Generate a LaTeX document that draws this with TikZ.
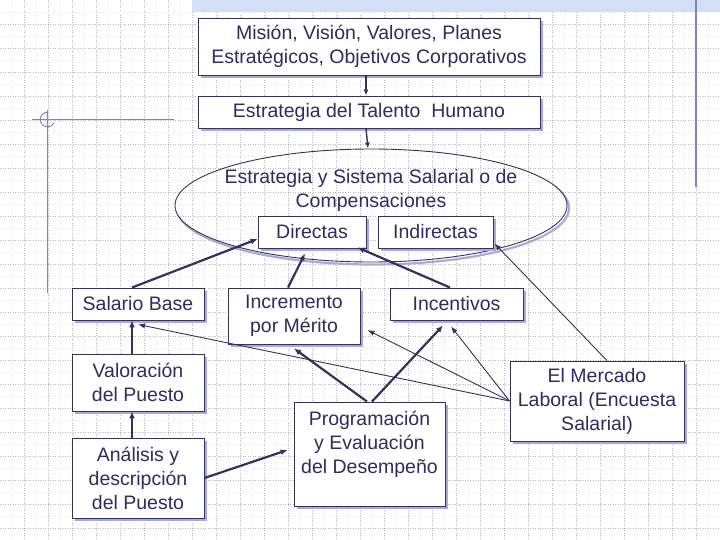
\documentclass[tikz,border=0pt]{standalone}
\usepackage{fontspec}
\setmainfont{Liberation Sans}
\usetikzlibrary{arrows.meta,shapes.geometric,shadows,calc}
\definecolor{navy}{RGB}{50,50,92}
\definecolor{txtc}{RGB}{45,45,95}
\definecolor{shadowc}{RGB}{170,170,215}
\definecolor{gridc}{RGB}{185,185,195}
\definecolor{decoc}{RGB}{120,135,185}
\definecolor{bandc}{RGB}{212,222,245}
\begin{document}
\begin{tikzpicture}[x=1pt,y=-1pt,
  gridmajor/.style={draw=gridc, line width=0.7pt, dash pattern=on 1pt off 1.5pt},
  gridminor/.style={draw=gridc!30, line width=0.5pt, dash pattern=on 1pt off 1.5pt},
  box/.style={draw=navy, line width=0.9pt, fill=white, inner sep=0pt, align=center,
    text=txtc, font=\fontsize{19.5}{24}\selectfont,
    general shadow={fill=shadowc, shadow xshift=3pt, shadow yshift=-3pt}},
  plaintext/.style={inner sep=0pt, align=center, text=txtc, font=\fontsize{19.5}{24}\selectfont},
  thickarrow/.style={draw=navy, line width=2.2pt, -{Latex[length=7pt,width=6pt]}},
  midarrow/.style={draw=navy, line width=1.4pt, -{Latex[length=6pt,width=5pt]}},
  thinarrow/.style={draw=navy, line width=0.9pt, -{Latex[length=7pt,width=5pt]}},
  deco/.style={draw=decoc, line width=1.2pt}
]
\useasboundingbox (0,0) rectangle (720,540);
% background grid
\foreach \i in {0,...,29} {
  \draw[gridminor] ({24*\i+12.5},0) -- ({24*\i+12.5},540);
  \draw[gridmajor] ({24*\i+24.5},0) -- ({24*\i+24.5},540);
}
\foreach \j in {0,...,22} {
  \draw[gridminor] (0,{24*\j+12.5}) -- (720,{24*\j+12.5});
  \draw[gridmajor] (0,{24*\j+24.5}) -- (720,{24*\j+24.5});
}
% decorative elements
\fill[bandc] (192,0) rectangle (720,12.5);
\draw[deco] (696,0) -- (696,187);
\draw[deco] (47.5,110) -- (47.5,293);
\draw[deco, line width=1pt] (32,119.5) -- (174,119.5);
\draw[deco, line width=0.9pt] (47.5,112.2) arc[start angle=90, end angle=330, radius=7.3pt];

% nodes
\node[box, minimum width=342pt, minimum height=57pt] (mis) at (369,46.5)
  {Misión, Visión, Valores, Planes\\Estratégicos, Objetivos Corporativos};
\node[box, minimum width=342pt, minimum height=32pt] (tal) at (369,112)
  {Estrategia del Talento\ \ Humano};
\begin{scope}[even odd rule]
  \clip (0,0) rectangle (720,540) (371,205.5) ellipse[x radius=196pt, y radius=56.5pt];
  \draw[shadowc, line width=2.2pt] (373,208) ellipse[x radius=196pt, y radius=56.5pt];
\end{scope}
\node[draw=navy, line width=0.9pt, ellipse, minimum width=392pt, minimum height=113pt, inner sep=0pt] (ell) at (371,205.5) {};
\node[plaintext] (etxt) at (371,190) {Estrategia y Sistema Salarial o de\\Compensaciones};
\node[box, minimum width=108pt, minimum height=32pt] (dir) at (312,232) {Directas};
\node[box, minimum width=115pt, minimum height=32pt] (ind) at (435.5,232) {Indirectas};
\node[box, minimum width=132pt, minimum height=32pt] (sal) at (138,304) {Salario Base};
\node[box, minimum width=132pt, minimum height=56pt] (inc) at (294,316) {Incremento\\por Mérito};
\node[box, minimum width=133pt, minimum height=32pt] (icv) at (456.5,304) {Incentivos};
\node[box, minimum width=132pt, minimum height=57pt] (val) at (138,382.5) {Valoración\\del Puesto};
\node[box, minimum width=132pt, minimum height=80pt] (ana) at (138,478) {Análisis y\\descripción\\del Puesto};
\node[box, minimum width=151pt, minimum height=104pt] (pro) at (369.5,454) {Programación\\y Evaluación\\del Desempeño\\\mbox{}};
\node[box, minimum width=174pt, minimum height=80pt] (mer) at (597,401) {El Mercado\\Laboral (Encuesta\\Salarial)};

% connectors
\draw[midarrow] ([xshift=-3pt]mis.south) -- ([xshift=-3pt]tal.north);
\draw[midarrow] ([xshift=-3pt]tal.south) -- ([xshift=-3pt]ell.north);
\draw[thickarrow] ([xshift=-6pt]sal.north) -- ([yshift=-7pt]dir.west);
\draw[thickarrow] ([xshift=-6pt]inc.north) -- ([xshift=-7pt,yshift=-5pt]dir.south);
\draw[thickarrow] ([xshift=-6.5pt]icv.north) -- ([xshift=-9pt,yshift=1pt]dir.south east);
\draw[thinarrow] ([xshift=10pt]mer.north) -- ([xshift=1pt,yshift=5pt]ind.south east);
\draw[thickarrow] ([xshift=-6pt]val.north) -- ([xshift=-6pt]sal.south);
\draw[thickarrow] ([xshift=-6pt]ana.north) -- ([xshift=-6pt]val.south);
\draw[thickarrow] (ana.east) -- ([xshift=-6pt,yshift=4pt]pro.west);
\draw[thickarrow] ([xshift=-2.5pt]pro.north) -- ([yshift=-4pt]inc.south);
\draw[thickarrow] ([xshift=2.5pt]pro.north) -- ([xshift=-13.5pt,yshift=-5pt]icv.south);
\draw[thinarrow] (mer.west) -- ([yshift=-4pt]sal.south);
\draw[thinarrow] (mer.west) -- ([xshift=7pt,yshift=-14pt]inc.east);
\draw[thinarrow] (mer.west) -- ([xshift=-5.5pt,yshift=-6pt]icv.south);
\end{tikzpicture}
\end{document}
